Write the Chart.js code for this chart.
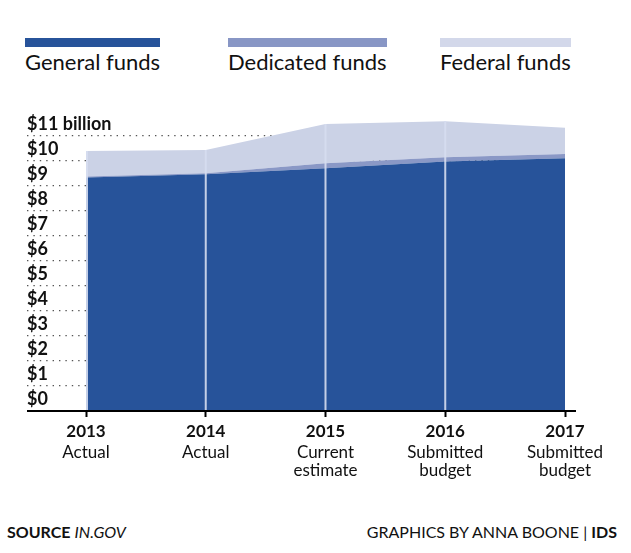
<!DOCTYPE html>
<html lang="en">
<head>
  <meta charset="UTF-8">
  <meta name="viewport" content="width=device-width, initial-scale=1.0">
  <title>Funds by source</title>
  <script src="https://cdn.jsdelivr.net/npm/chart.js"></script>
  <style>
    html, body { margin: 0; padding: 0; background: #fff; }
    body { width: 631px; height: 553px; position: relative; overflow: hidden; font-family: Lato, "Open Sans", sans-serif; color: #111; }
    #legend { position: absolute; top: 38px; left: 0; width: 631px; height: 40px; }
    .item { position: absolute; top: 0; }
    .item:nth-child(1) { left: 25px; }
    .item:nth-child(2) { left: 228px; }
    .item:nth-child(3) { left: 440px; }
    .item .bar { height: 9px; }
    .item .txt { font-size: 22px; line-height: 1; margin-top: 4px; white-space: nowrap; }
    #chartBox { position: absolute; left: 0; top: 100px; width: 631px; height: 400px; }
    #footer { position: absolute; left: 7px; right: 14px; top: 524px; font-size: 16px; line-height: 1; display: flex; justify-content: space-between; }
  </style>
</head>
<body>
  <div id="legend"></div>
  <div id="chartBox"><canvas id="fundsChart"></canvas></div>
  <div id="footer">
    <div><b>SOURCE</b> <i>IN.GOV</i></div>
    <div>GRAPHICS BY ANNA BOONE | <b>IDS</b></div>
  </div>

  <script>
    // Data (billions of dollars)
    const years = ['2013', '2014', '2015', '2016', '2017'];
    const notes = [['Actual'], ['Actual'], ['Current', 'estimate'], ['Submitted', 'budget'], ['Submitted', 'budget']];
    const generalFunds = [9.33, 9.46, 9.70, 9.97, 10.10];
    const dedicatedFunds = [0.04, 0.04, 0.20, 0.17, 0.17];
    const federalFunds = [1.02, 0.93, 1.57, 1.44, 1.05];
    const yTicks = [0, 1, 2, 3, 4, 5, 6, 7, 8, 9, 10, 11];
    const yTickLabels = ['$0', '$1', '$2', '$3', '$4', '$5', '$6', '$7', '$8', '$9', '$10', '$11 billion'];
    const seriesNames = ['General funds', 'Dedicated funds', 'Federal funds'];

    const areaColors = ['#27539a', '#8a98c6', '#cbd2e6'];
    const legendColors = ['#27539a', '#8896c5', '#d3d8ea'];

    // HTML legend: bar above the name
    const legendEl = document.getElementById('legend');
    seriesNames.forEach((name, i) => {
      const item = document.createElement('div');
      item.className = 'item';
      item.innerHTML = `<div class="bar" style="background:${legendColors[i]}"></div><div class="txt">${name}</div>`;
      legendEl.appendChild(item);
    });

    // light vertical separators inside the filled area, plus the baseline
    const dividers = {
      id: 'dividers',
      afterDatasetsDraw(chart) {
        const { ctx, chartArea, scales: { x, y } } = chart;
        ctx.save();
        ctx.strokeStyle = 'rgba(214, 221, 240, 0.9)';
        ctx.lineWidth = 2;
        years.forEach((_, i) => {
          if (i === years.length - 1) return;
          const total = generalFunds[i] + dedicatedFunds[i] + federalFunds[i];
          const px = x.getPixelForValue(i) + (i === 0 ? 1 : 0);
          ctx.beginPath();
          ctx.moveTo(px, y.getPixelForValue(0));
          ctx.lineTo(px, y.getPixelForValue(total));
          ctx.stroke();
        });
        // baseline runs a little past the last year
        const y0 = y.getPixelForValue(0);
        ctx.strokeStyle = '#000';
        ctx.lineWidth = 2;
        ctx.beginPath();
        ctx.moveTo(chartArea.left, y0);
        ctx.lineTo(chartArea.right + 11, y0);
        ctx.stroke();
        ctx.restore();
      }
    };

    const toPoints = arr => arr.map((v, i) => ({ x: i, y: v }));
    const categoryTicks = scale => { scale.ticks = years.map((_, i) => ({ value: i })); };

    Chart.defaults.font.family = 'Lato, "Open Sans", sans-serif';
    Chart.defaults.color = '#111';

    const ctx = document.getElementById('fundsChart').getContext('2d');
    new Chart(ctx, {
      type: 'line',
      data: {
        datasets: [
          { label: seriesNames[0], data: toPoints(generalFunds), backgroundColor: areaColors[0], fill: 'origin' },
          { label: seriesNames[1], data: toPoints(dedicatedFunds), backgroundColor: areaColors[1], fill: '-1' },
          { label: seriesNames[2], data: toPoints(federalFunds), backgroundColor: areaColors[2], fill: '-1' },
        ],
      },
      options: {
        responsive: true,
        maintainAspectRatio: false,
        animation: false,
        elements: {
          line: { borderWidth: 0, tension: 0 },
          point: { radius: 0, hoverRadius: 0 },
        },
        layout: { padding: { left: 27, right: 66, top: 9, bottom: 19 } },
        plugins: {
          legend: { display: false },
          tooltip: { enabled: false },
        },
        scales: {
          x: {
            type: 'linear',
            min: -0.4927,
            max: 4,
            afterBuildTicks: categoryTicks,
            afterFit: scale => { scale.height = 30; },
            border: { display: false },
            grid: { drawOnChartArea: false, drawTicks: true, tickLength: 6, tickColor: '#000', tickWidth: 2 },
            ticks: {
              autoSkip: false,
              maxRotation: 0,
              padding: 4,
              font: { size: 17, weight: 'bold', lineHeight: 1.2 },
              callback: v => years[v],
            },
          },
          x2: {
            type: 'linear',
            position: 'bottom',
            min: -0.4927,
            max: 4,
            afterBuildTicks: categoryTicks,
            afterFit: scale => { scale.height = 40; },
            border: { display: false },
            grid: { display: false, drawTicks: false },
            ticks: {
              autoSkip: false,
              maxRotation: 0,
              padding: 3,
              font: { size: 17, lineHeight: 1.05 },
              callback: v => notes[v],
            },
          },
          y: {
            stacked: true,
            min: 0,
            max: 12,
            afterBuildTicks: scale => { scale.ticks = yTicks.map(v => ({ value: v })); },
            border: { display: false, dash: [1.4, 5] },
            grid: { color: '#555', lineWidth: 1.3, drawTicks: false },
            ticks: {
              mirror: true,
              padding: 0,
              labelOffset: -12,
              font: { size: 18, weight: 'bold' },
              callback: (v) => yTickLabels[yTicks.indexOf(v)],
            },
          },
        },
      },
      plugins: [dividers],
    });
  </script>
</body>
</html>
